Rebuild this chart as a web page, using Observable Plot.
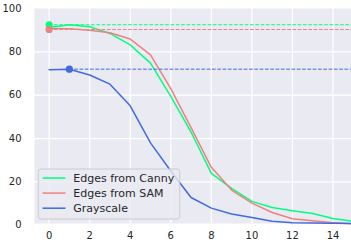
<!DOCTYPE html>
<html>
<head>
<meta charset="utf-8">
<script src="https://cdn.jsdelivr.net/npm/d3@7"></script>
<script src="https://cdn.jsdelivr.net/npm/@observablehq/plot@0.6"></script>
<style>
  html, body { margin: 0; padding: 0; background: white; overflow: hidden; }
  #chart { width: 351px; height: 243px; overflow: hidden; }
  #chart svg { max-width: none !important; width: 368px !important; height: 243px !important; display: block; }
</style>
</head>
<body>
<div id="chart"></div>
<script>
// ---- data ----
const seriesNames = ["Edges from Canny", "Edges from SAM", "Grayscale"];
const seriesColors = ["#00ff7f", "#f08080", "#4169e1"];
const epochs = [0, 1, 2, 3, 4, 5, 6, 7, 8, 9, 10, 11, 12, 13, 14, 15];
const cannyValues = [91.2, 92.5, 91.6, 88.5, 83.2, 74.8, 59.5, 43.0, 23.9, 17.0, 11.0, 8.2, 6.7, 5.4, 3.1, 1.8];
const samValues = [90.8, 90.6, 90.0, 88.8, 85.9, 78.6, 63.0, 45.0, 26.7, 16.2, 10.2, 5.9, 3.0, 2.1, 1.2, 0.6];
const grayValues = [71.7, 72.0, 69.3, 65.1, 55.1, 38.0, 25.0, 12.8, 7.9, 5.2, 3.6, 1.8, 1.2, 1.0, 0.9, 0.8];
const bestX = [0, 0, 1];
const bestY = [92.5, 90.3, 72.0];
const xTicks = [0, 2, 4, 6, 8, 10, 12, 14];
const yTicks = [0, 20, 40, 60, 80, 100];
const yGrid = [20, 40, 60, 80];

const allValues = [cannyValues, samValues, grayValues];
const xMax = 15.75;

const marks = [
  Plot.frame({fill: "#eaeaf2", stroke: null}),
  Plot.ruleX(xTicks, {x: d => d, stroke: "white", strokeWidth: 1.25}),
  Plot.ruleY(yGrid, {y: d => d, stroke: "white", strokeWidth: 1.25})
];

seriesNames.forEach((name, s) => {
  const rows = epochs.map((e, i) => ({epoch: e, value: allValues[s][i]}));
  marks.push(Plot.ruleY([{x1: bestX[s], x2: xMax, y: bestY[s]}], {
    y: "y", x1: "x1", x2: "x2", stroke: seriesColors[s], strokeWidth: 1,
    strokeDasharray: "3.7,1.6"
  }));
  marks.push(Plot.line(rows, {x: "epoch", y: "value", stroke: seriesColors[s], strokeWidth: 1.5}));
  marks.push(Plot.dot([{x: bestX[s], y: bestY[s]}], {x: "x", y: "y", r: 3.6, fill: seriesColors[s], stroke: null}));
});

marks.push(Plot.text(xTicks, {x: d => d, frameAnchor: "bottom", dy: 15, text: d => String(d), fill: "#262626"}));
marks.push(Plot.text(yTicks, {y: d => d, frameAnchor: "left", dx: -13, textAnchor: "end", text: d => String(d), fill: "#262626"}));

const chart = Plot.plot({
  width: 368,
  height: 243,
  marginLeft: 34,
  marginRight: 0,
  marginTop: 8,
  marginBottom: 20,
  x: {domain: [-0.72, xMax], axis: null},
  y: {domain: [0.8, 100], axis: null},
  style: {fontFamily: "DejaVu Sans", fontSize: "10px", color: "#262626", background: "white", overflow: "visible"},
  marks
});

// legend inside the plot area
const svg = d3.select(chart);
const lg = svg.append("g").attr("class", "legend").attr("text-anchor", "start");
lg.append("rect")
  .attr("x", 38.3).attr("y", 169).attr("width", 141.4).attr("height", 50)
  .attr("rx", 2.5)
  .attr("fill", "#eaeaf2").attr("fill-opacity", 0.8)
  .attr("stroke", "#cccccc").attr("stroke-width", 1);
seriesNames.forEach((name, i) => {
  const y = 178 + i * 15.1;
  lg.append("line")
    .attr("x1", 42.5).attr("x2", 65.5).attr("y1", y).attr("y2", y)
    .attr("stroke", seriesColors[i]).attr("stroke-width", 1.5);
  lg.append("text")
    .attr("x", 73.3).attr("y", y).attr("dy", "0.35em")
    .attr("text-anchor", "start")
    .attr("font-family", "DejaVu Sans").attr("font-size", "11px")
    .attr("fill", "#262626")
    .text(name);
});

document.getElementById("chart").appendChild(chart);
</script>
</body>
</html>
